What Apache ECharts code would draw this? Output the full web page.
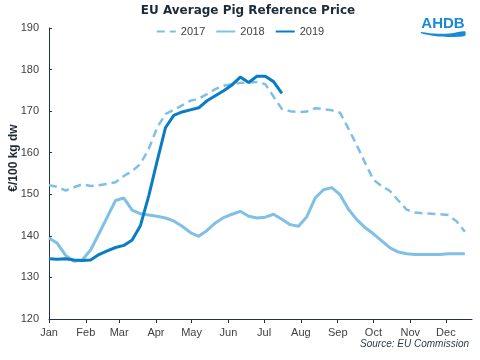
<!DOCTYPE html>
<html>
<head>
<meta charset="utf-8">
<script src="https://cdn.jsdelivr.net/npm/echarts@6/dist/echarts.min.js"></script>
<style>html,body{margin:0;padding:0;background:#fff;}#c{width:480px;height:360px;}</style>
</head>
<body>
<div id="c"></div>
<script>
// Week numbers (week 1 = 1 Jan) and weekly prices, €/100 kg dw
const weeks = [1,2,3,4,5,6,7,8,9,10,11,12,13,14,15,16,17,18,19,20,21,22,23,24,25,26,27,28,29,30,31,32,33,34,35,36,37,38,39,40,41,42,43,44,45,46,47,48,49,50,51];
const price2017 = [152.2,151.8,150.9,151.7,152.4,152.0,152.2,152.5,152.9,154.4,155.6,157.3,161.0,166.0,169.3,170.3,171.4,172.5,173.0,174.1,175.3,176.1,176.5,176.8,176.9,177.0,176.5,173.5,170.5,170.0,169.8,169.9,170.7,170.5,170.2,169.6,165.8,161.8,157.6,153.5,152.0,150.8,148.5,146.3,145.6,145.4,145.3,145.2,145.0,143.5,141.0];
const price2018 = [139.5,138.2,135.3,133.9,134.2,136.6,140.5,144.5,148.5,149.1,146.2,145.3,145.0,144.7,144.3,143.6,142.3,140.8,139.9,141.3,143.1,144.4,145.2,145.9,144.7,144.3,144.5,145.2,144.0,142.7,142.3,144.6,149.1,151.1,151.6,149.9,146.4,143.9,142.0,140.5,138.8,137.1,136.1,135.7,135.5,135.5,135.5,135.5,135.7,135.7,135.7];
const price2019 = [134.5,134.4,134.5,134.2,134.1,134.2,135.5,136.4,137.2,137.7,139.0,142.5,149.7,158.0,166.0,169.0,169.8,170.3,170.8,172.5,173.7,174.9,176.3,178.2,176.9,178.4,178.4,177.1,174.3];
const monthLabels = ['Jan','Feb','Mar','Apr','May','Jun','Jul','Aug','Sep','Oct','Nov','Dec'];
const monthStartDay = [0,31,59,90,120,151,181,212,243,273,304,334];
const yTicks = [120,130,140,150,160,170,180,190];

function toData(vals){ return vals.map((v,i)=>[(weeks[i]-1)*7, v]); }

const chart = echarts.init(document.getElementById('c'), null, {renderer:'canvas'});
const axisColor = '#23343f';
const txt = '#404040';
chart.setOption({
  animation:false,
  backgroundColor:'#fff',
  title:{text:'EU Average Pig Reference Price', left:243, top:0, textAlign:'center',
    textStyle:{fontFamily:'DejaVu Sans', fontWeight:'bold', fontSize:12, color:'#1d2b36'}},
  legend:{top:21, left:'center', itemWidth:19, itemHeight:8, itemGap:10,
    itemStyle:{opacity:0},
    textStyle:{fontFamily:'Liberation Sans', fontSize:11, color:txt},
    data:['2017','2018','2019']},
  grid:{left:49, right:8, top:28, bottom:41, containLabel:false},
  xAxis:{type:'value', min:0, max:356,
    axisLine:{lineStyle:{color:axisColor, width:1}},
    axisTick:{show:true, length:4, customValues:monthStartDay, lineStyle:{color:axisColor}},
    axisLabel:{customValues:monthStartDay, color:txt, fontFamily:'Liberation Sans', fontSize:11, margin:8,
      formatter:(v)=>monthLabels[monthStartDay.indexOf(v)]},
    splitLine:{show:false}},
  yAxis:{type:'value', min:120, max:190, interval:10,
    axisLine:{show:true, lineStyle:{color:axisColor, width:1}},
    axisTick:{show:true, inside:true, length:3, lineStyle:{color:axisColor}},
    axisLabel:{color:txt, fontFamily:'Liberation Sans', fontSize:11, margin:10,
      formatter:(v)=>yTicks.includes(v)?String(v):''},
    splitLine:{show:false}},
  series:[
    {name:'2017', type:'line', symbol:'none', data:toData(price2017),
      lineStyle:{color:'#7fbfe7', width:2.5, type:[8,5]}, itemStyle:{color:'#7fbfe7'}},
    {name:'2018', type:'line', symbol:'none', data:toData(price2018),
      lineStyle:{color:'#80c0e7', width:3}, itemStyle:{color:'#80c0e7'}},
    {name:'2019', type:'line', symbol:'none', data:toData(price2019),
      lineStyle:{color:'#0a7cc5', width:3}, itemStyle:{color:'#0a7cc5'}}
  ],
  graphic:[
    {type:'text', x:14, y:158, rotation:Math.PI/2,
      style:{text:'€/100 kg dw', fontFamily:'Liberation Sans', fontWeight:'bold', fontSize:12, fill:'#1d2b36', align:'center', verticalAlign:'middle'}},
    {type:'text', x:469, y:339,
      style:{text:'Source: EU Commission', fontFamily:'Liberation Sans', fontStyle:'italic', fontSize:10, fill:'#2d3d4a', align:'right'}},
    {type:'text', x:443, y:24,
      style:{text:'AHDB', fontFamily:'Liberation Sans', fontWeight:'bold', fontSize:15, fill:'#1a8bd3', align:'center', verticalAlign:'middle'}},
    {type:'polygon', shape:{smooth:0.3, points:[[421,32],[430,33.3],[440,33.8],[452,33.2],[465,31.3],[465,35.8],[452,37],[440,36.6],[430,35.2],[421,33.2]]},
      style:{fill:'#1a8bd3'}}
  ]
});
</script>
</body>
</html>
